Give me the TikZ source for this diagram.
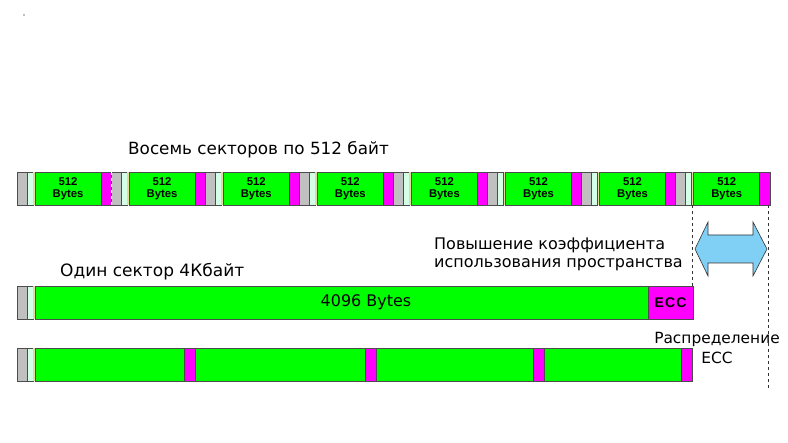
\documentclass[tikz,border=0pt]{standalone}
\usepackage{fontspec}
\setmainfont{DejaVu Sans}
\newfontfamily\bytefont{Liberation Sans}
\usetikzlibrary{positioning}

\definecolor{cellgray}{HTML}{C0C0C0}
\definecolor{celllight}{HTML}{D2FFE6}
\definecolor{celltan}{HTML}{E8D8A0}
\definecolor{cellgreen}{HTML}{00FF00}
\definecolor{cellmag}{HTML}{FF00FF}
\definecolor{arrowblue}{HTML}{80CFF5}

\begin{document}
\begin{tikzpicture}[x=1pt, y=-1pt,
  cell/.style={draw=black!70, line width=0.5pt},
  label/.style={inner sep=0pt, font=\fontsize{15}{18}\selectfont},
  bytes/.style={inner sep=0pt, align=center, font=\bytefont\bfseries\fontsize{11.3}{12}\selectfont}]
  \useasboundingbox[fill=white] (0,0) rectangle (788,443);
  \fill[cellgray] (23,14) rectangle (25,16);

  % eight 512-byte sectors
  \foreach \i in {0,...,7} {
    \pgfmathsetmacro\o{17+94.1*\i}
    \draw[cell, fill=cellgray] (\o,172) rectangle ({\o+10},205);
    \draw[cell, fill=celllight] ({\o+10},172) rectangle ({\o+16},205);
    \fill[celltan] ({\o+16},172) rectangle ({\o+18},205);
    \draw[cell, fill=cellgreen] ({\o+18},172) rectangle ({\o+84},205);
    \draw[cell, fill=cellmag] ({\o+84},172) rectangle ({\o+94.1},205);
    \node[bytes] (b\i) at ({\o+51},188.5) {512\\Bytes};
  }
  \draw[white, dashed, line width=1pt] (111,172) -- (111,205);

  % one 4K sector
  \draw[cell, fill=cellgray] (17,286) rectangle (27,319);
  \draw[cell, fill=celllight] (27,286) rectangle (33,319);
  \fill[celltan] (33,286) rectangle (35,319);
  \draw[cell, fill=cellgreen] (35,286) rectangle (648,319);
  \draw[cell, fill=cellmag] (648,286) rectangle (693,319);
  \node[label, font=\fontsize{16}{18}\selectfont] (big) at (366,302.5) {4096 Bytes};
  \node[bytes, font=\bytefont\bfseries\fontsize{14}{14}\selectfont] (ecc) at (670.5,303) {E\kern1.2pt C\kern1.2pt C};

  % distributed ECC
  \draw[cell, fill=cellgray] (17,348) rectangle (27,381);
  \draw[cell, fill=celllight] (27,348) rectangle (33,381);
  \fill[celltan] (33,348) rectangle (35,381);
  \draw[cell, fill=cellgreen] (35,348) rectangle (184,381);
  \draw[cell, fill=cellmag] (184,348) rectangle (195,381);
  \draw[cell, fill=cellgreen] (195,348) rectangle (365,381);
  \draw[cell, fill=cellmag] (365,348) rectangle (376,381);
  \draw[cell, fill=cellgreen] (376,348) rectangle (533,381);
  \draw[cell, fill=cellmag] (533,348) rectangle (544,381);
  \draw[cell, fill=cellgreen] (544,348) rectangle (681,381);
  \draw[cell, fill=cellmag] (681,348) rectangle (692,381);

  % labels
  \node[label, anchor=west, font=\fontsize{16.8}{18}\selectfont] (top) at (128,150) {Восемь секторов по 512 байт};
  \node[label, anchor=west, font=\fontsize{17}{18}\selectfont] (one) at (60,272) {Один сектор 4Кбайт};
  \node[label, anchor=west, align=left, font=\fontsize{16}{18}\selectfont] (gain) at (434,254) {Повышение коэффициента\\использования пространства};
  \node[label, align=center, font=\fontsize{15.4}{20}\selectfont] (dist) at (717,348) {Распределение\\ECC};

  % gain span
  \coordinate (l1) at (692,205);
  \coordinate (l2) at (692,286);
  \coordinate (r1) at (768,205);
  \coordinate (r2) at (768,390);
  \draw[dashed, black!80, line width=0.7pt] (l1) -- (l2);
  \draw[dashed, black!80, line width=0.7pt] (r1) -- (r2);
  \draw[fill=arrowblue, draw=black!80, line width=0.6pt]
    (695,249) -- (708,222) -- (708,235) -- (753,235) -- (753,222) -- (767,249)
    -- (753,276) -- (753,263) -- (708,263) -- (708,276) -- cycle;
\end{tikzpicture}
\end{document}
